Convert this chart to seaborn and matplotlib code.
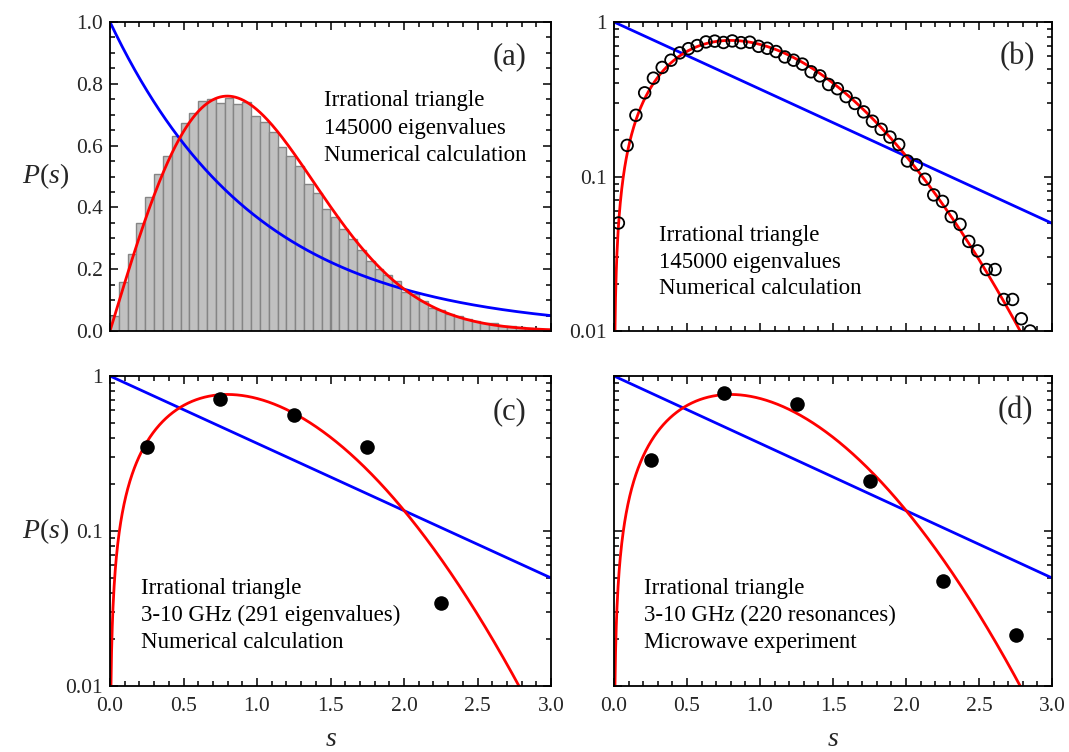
import numpy as np
import pandas as pd
import matplotlib
matplotlib.use("Agg")
import matplotlib.pyplot as plt
from matplotlib.ticker import MultipleLocator, FixedLocator, FuncFormatter, LogLocator, NullFormatter
import seaborn as sns

# ---------------- data ----------------
bin_width = 0.06
bin_centers = [0.03, 0.09, 0.15, 0.21, 0.27, 0.33, 0.39, 0.45, 0.51, 0.57,
               0.63, 0.69, 0.75, 0.81, 0.87, 0.93, 0.99, 1.05, 1.11, 1.17,
               1.23, 1.29, 1.35, 1.41, 1.47, 1.53, 1.59, 1.65, 1.71, 1.77,
               1.83, 1.89, 1.95, 2.01, 2.07, 2.13, 2.19, 2.25, 2.31, 2.37,
               2.43, 2.49, 2.55, 2.61, 2.67, 2.73, 2.79, 2.85, 2.91, 2.97]
hist_values = [0.050, 0.159, 0.249, 0.348, 0.433, 0.508, 0.566, 0.631, 0.672, 0.704,
               0.743, 0.752, 0.737, 0.754, 0.735, 0.740, 0.696, 0.676, 0.644, 0.594,
               0.566, 0.534, 0.476, 0.448, 0.394, 0.370, 0.329, 0.297, 0.262, 0.228,
               0.202, 0.180, 0.161, 0.126, 0.119, 0.096, 0.076, 0.069, 0.055, 0.049,
               0.038, 0.033, 0.025, 0.025, 0.016, 0.016, 0.012, 0.010, 0.008, 0.006]

s_coarse = [0.25, 0.75, 1.25, 1.75, 2.25, 2.75]
p_numerical_c = [0.350, 0.708, 0.557, 0.347, 0.0345]          # panel (c), 5 points
p_experiment_d = [0.286, 0.773, 0.656, 0.209, 0.0476, 0.0214]  # panel (d)

panel_labels = ["(a)", "(b)", "(c)", "(d)"]
text_a = ["Irrational triangle", "145000 eigenvalues", "Numerical calculation"]
text_b = ["Irrational triangle", "145000 eigenvalues", "Numerical calculation"]
text_c = ["Irrational triangle", "3-10 GHz (291 eigenvalues)", "Numerical calculation"]
text_d = ["Irrational triangle", "3-10 GHz (220 resonances)", "Microwave experiment"]

# theoretical curves: Poisson and GOE Wigner surmise
s_grid = np.linspace(0.0005, 3.0, 1200)
poisson = np.exp(-s_grid)
wigner = np.pi / 2 * s_grid * np.exp(-np.pi * s_grid ** 2 / 4)
curves = pd.DataFrame({"s": s_grid, "poisson": poisson, "wigner": wigner})
hist_df = pd.DataFrame({"s": bin_centers, "p": hist_values})

# ---------------- style ----------------
sns.set_theme(style="ticks")
plt.rcParams["font.family"] = ["Liberation Serif", "DejaVu Serif"]
plt.rcParams["mathtext.fontset"] = "custom"
plt.rcParams["mathtext.rm"] = "Liberation Serif"
plt.rcParams["mathtext.it"] = "Liberation Serif:italic"
plt.rcParams["axes.linewidth"] = 1.3

W, H = 1069, 752
fig = plt.figure(figsize=(W / 100, H / 100), dpi=100)


def add_ax(l, r, t, b):
    return fig.add_axes([l / W, 1 - b / H, (r - l) / W, (b - t) / H])


ax_a = add_ax(110, 551, 22, 331)
ax_b = add_ax(614, 1052, 22, 331)
ax_c = add_ax(110, 551, 376, 686)
ax_d = add_ax(614, 1052, 376, 686)

BLUE = "#0000ff"
RED = "#ff0000"
TICKFS = 15.5
TEXTFS = 16.5
LABELFS = 22


def style_axis(ax, log=False):
    ax.set_xlim(0, 3.0)
    ax.xaxis.set_major_locator(MultipleLocator(0.5))
    ax.xaxis.set_minor_locator(MultipleLocator(0.1))
    ax.tick_params(which="both", direction="in", top=True, right=True,
                   labelsize=TICKFS, width=1.1, color="black")
    ax.tick_params(which="major", length=6)
    ax.tick_params(which="minor", length=3.5)
    ax.tick_params(axis="x", which="major", pad=8)
    ax.tick_params(axis="y", which="major", pad=5)
    for sp in ax.spines.values():
        sp.set_color("black")
        sp.set_linewidth(1.3)
    if log:
        ax.set_yscale("log")
        ax.set_ylim(0.01, 1.0)
        ax.yaxis.set_major_locator(FixedLocator([0.01, 0.1, 1.0]))
        ax.yaxis.set_major_formatter(FuncFormatter(lambda v, p: f"{v:g}"))
        ax.yaxis.set_minor_locator(LogLocator(base=10, subs=np.arange(2, 10), numticks=20))
        ax.yaxis.set_minor_formatter(NullFormatter())
    ax.set_xlabel("")
    ax.set_ylabel("")


def add_text(ax, x, y, lines, dy):
    for i, t in enumerate(lines):
        ax.text(x, y - i * dy, t, transform=ax.transAxes, fontsize=TEXTFS,
                ha="left", va="center", color="black")


def panel_label(ax, txt, xr, yc):
    ax.text(xr, yc, txt, transform=ax.transAxes, fontsize=LABELFS, ha="right", va="center")


def ylab(ax):
    ax.set_ylabel("$P(s)$", fontsize=20, rotation=0, ha="center", va="center")
    ax.yaxis.set_label_coords(-0.145, 0.5)


def xlab(ax):
    ax.set_xlabel("$s$", fontsize=20, va="center")
    ax.xaxis.set_label_coords(0.5, -0.172)


# ---------------- panel (a) ----------------
sns.histplot(data=hist_df, x="s", weights="p", binwidth=bin_width, binrange=(0.0, 3.0),
             ax=ax_a, color="#c0c0c0", edgecolor="#858585", linewidth=1.0, alpha=1.0)
sns.lineplot(data=curves, x="s", y="poisson", ax=ax_a, color=BLUE, linewidth=2)
sns.lineplot(data=curves, x="s", y="wigner", ax=ax_a, color=RED, linewidth=2)
style_axis(ax_a)
ax_a.set_ylim(0, 1.0)
ax_a.yaxis.set_major_locator(MultipleLocator(0.2))
ax_a.yaxis.set_minor_locator(MultipleLocator(0.05))
ax_a.yaxis.set_major_formatter(FuncFormatter(lambda v, p: f"{v:.1f}"))
ax_a.tick_params(labelbottom=False)
add_text(ax_a, 0.486, 0.745, text_a, 0.089)
panel_label(ax_a, panel_labels[0], 0.945, 0.888)
ylab(ax_a)

# ---------------- panel (b) ----------------
sns.lineplot(data=curves, x="s", y="poisson", ax=ax_b, color=BLUE, linewidth=2)
sns.lineplot(data=curves, x="s", y="wigner", ax=ax_b, color=RED, linewidth=2)
sns.scatterplot(data=hist_df, x="s", y="p", ax=ax_b, marker="o", s=70,
                facecolor="none", edgecolor="black", linewidth=1.3, zorder=3)
style_axis(ax_b, log=True)
ax_b.tick_params(labelbottom=False)
add_text(ax_b, 0.103, 0.31, text_b, 0.087)
panel_label(ax_b, panel_labels[1], 0.961, 0.888)

# ---------------- panel (c) ----------------
sns.lineplot(data=curves, x="s", y="poisson", ax=ax_c, color=BLUE, linewidth=2)
sns.lineplot(data=curves, x="s", y="wigner", ax=ax_c, color=RED, linewidth=2)
sns.scatterplot(x=s_coarse[:len(p_numerical_c)], y=p_numerical_c, ax=ax_c, marker="o",
                s=110, color="black", edgecolor="black", linewidth=0, zorder=3)
style_axis(ax_c, log=True)
ax_c.xaxis.set_major_formatter(FuncFormatter(lambda v, p: f"{v:.1f}"))
add_text(ax_c, 0.07, 0.315, text_c, 0.088)
panel_label(ax_c, panel_labels[2], 0.945, 0.884)
ylab(ax_c)
xlab(ax_c)

# ---------------- panel (d) ----------------
sns.lineplot(data=curves, x="s", y="poisson", ax=ax_d, color=BLUE, linewidth=2)
sns.lineplot(data=curves, x="s", y="wigner", ax=ax_d, color=RED, linewidth=2)
sns.scatterplot(x=s_coarse, y=p_experiment_d, ax=ax_d, marker="o",
                s=110, color="black", edgecolor="black", linewidth=0, zorder=3)
style_axis(ax_d, log=True)
ax_d.xaxis.set_major_formatter(FuncFormatter(lambda v, p: f"{v:.1f}"))
ax_d.tick_params(labelleft=False)
add_text(ax_d, 0.068, 0.315, text_d, 0.088)
panel_label(ax_d, panel_labels[3], 0.957, 0.888)
xlab(ax_d)

for ax in (ax_a, ax_b, ax_c, ax_d):
    if ax.get_legend() is not None:
        ax.get_legend().remove()

fig.savefig("out.png", dpi=100)
